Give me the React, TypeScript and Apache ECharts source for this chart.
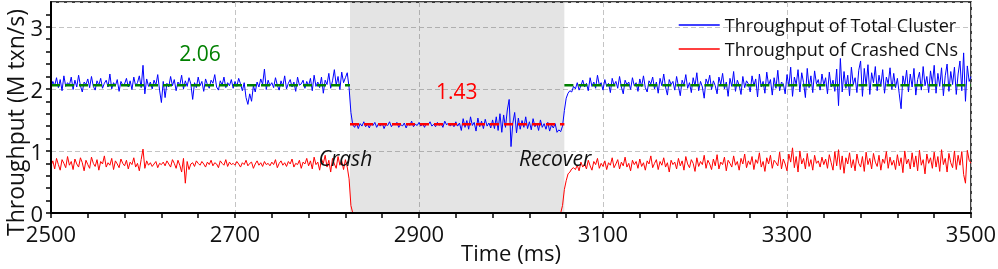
import React, { useEffect, useRef } from "react";
import * as echarts from "echarts";

// Sampling grid of the measurement (ms)
const timeStart = 2500;
const timeStep = 2;

// Throughput of the whole cluster (M txn/s), one value every 2 ms from 2500 to 3500
const totalThroughput = [
  2.01, 2.12, 2.05, 2.18, 2.02, 2.15, 1.97, 2.21, 2.04, 2.10, 2.06, 2.19, 1.99, 2.14, 2.03, 2.22, 2.05, 1.95, 2.11, 2.07,
  2.16, 2.02, 2.20, 2.04, 1.98, 2.13, 2.06, 2.17, 2.01, 2.09, 2.14, 2.03, 2.24, 2.00, 2.10, 2.05, 2.15, 1.96, 2.12, 2.06,
  2.08, 2.17, 2.03, 2.13, 1.99, 2.19, 2.05, 2.10, 2.21, 2.02, 2.38, 1.92, 2.16, 2.04, 2.11, 2.00, 2.14, 2.06, 2.23, 1.98,
  1.78, 2.12, 1.86, 2.09, 2.03, 2.20, 2.05, 2.15, 1.97, 2.11, 2.06, 2.22, 2.00, 2.13, 2.04, 2.18, 2.08, 1.83, 2.10, 2.02,
  2.19, 2.05, 2.12, 1.96, 2.16, 2.07, 2.01, 2.14, 2.09, 2.23, 2.03, 1.98, 2.13, 2.06, 2.19, 2.02, 2.10, 2.05, 2.15, 2.01,
  2.12, 2.04, 2.17, 2.08, 1.97, 2.10, 1.86, 1.75, 1.92, 1.80, 2.05, 1.95, 2.11, 2.03, 2.16, 2.07, 2.32, 1.99, 2.14, 2.05,
  2.10, 2.02, 2.18, 2.06, 1.98, 2.13, 2.04, 2.21, 2.00, 2.09, 2.15, 2.03, 2.11, 1.96, 2.19, 2.06, 2.08, 2.14, 2.01, 2.12,
  2.05, 2.17, 1.97, 2.22, 2.04, 2.11, 2.02, 2.19, 1.93, 2.14, 2.07, 2.25, 2.01, 2.13, 2.31, 2.06, 2.20, 1.99, 2.27, 2.10,
  2.18, 2.26, 2.02, 1.62, 1.42, 1.38, 1.45, 1.36, 1.44, 1.40, 1.47, 1.39, 1.43, 1.37, 1.45, 1.41, 1.46, 1.38, 1.44, 1.40,
  1.45, 1.36, 1.43, 1.41, 1.47, 1.39, 1.44, 1.42, 1.46, 1.38, 1.43, 1.40, 1.45, 1.37, 1.44, 1.41, 1.48, 1.39, 1.43, 1.41,
  1.46, 1.40, 1.44, 1.38, 1.45, 1.42, 1.47, 1.40, 1.43, 1.39, 1.46, 1.41, 1.44, 1.38, 1.48, 1.42, 1.45, 1.40, 1.44, 1.39,
  1.47, 1.40, 1.45, 1.33, 1.52, 1.38, 1.49, 1.35, 1.55, 1.41, 1.46, 1.32, 1.53, 1.39, 1.48, 1.36, 1.51, 1.40, 1.45, 1.37,
  1.50, 1.36, 1.55, 1.33, 1.60, 1.30, 1.58, 1.38, 1.66, 1.83, 1.07, 1.45, 1.62, 1.29, 1.53, 1.35, 1.49, 1.38, 1.55, 1.36,
  1.47, 1.34, 1.52, 1.39, 1.45, 1.33, 1.50, 1.38, 1.44, 1.35, 1.46, 1.32, 1.42, 1.37, 1.44, 1.30, 1.34, 1.31, 1.40, 1.65,
  1.85, 1.93, 1.97, 1.95, 2.04, 2.00, 2.10, 1.98, 2.05, 2.14, 2.03, 2.09, 1.97, 2.18, 2.04, 2.11, 2.01, 2.22, 2.06, 2.10,
  1.98, 2.15, 2.04, 2.09, 1.94, 2.17, 2.06, 2.12, 2.01, 2.20, 2.03, 1.92, 2.14, 2.07, 2.11, 1.99, 2.18, 2.05, 2.10, 1.96,
  2.16, 2.04, 2.21, 2.02, 1.95, 2.13, 2.08, 2.19, 2.00, 2.11, 1.93, 2.17, 2.05, 2.24, 2.03, 1.90, 2.15, 2.07, 2.12, 1.98,
  2.20, 2.04, 1.89, 2.14, 2.06, 2.23, 2.01, 2.10, 1.94, 2.18, 2.05, 2.26, 1.97, 2.12, 2.03, 1.85, 2.16, 2.08, 2.22, 1.99,
  2.13, 2.05, 1.92, 2.19, 2.07, 2.25, 2.00, 2.11, 1.88, 2.17, 2.04, 2.28, 1.96, 2.14, 2.06, 1.91, 2.20, 2.02, 2.13, 2.08,
  1.95, 2.21, 2.05, 2.16, 1.87, 2.24, 2.03, 2.12, 1.93, 2.27, 2.06, 2.15, 1.90, 2.18, 2.01, 2.30, 1.97, 2.11, 2.08, 1.92,
  2.23, 2.04, 2.35, 1.88, 2.19, 2.07, 2.31, 1.95, 2.26, 2.10, 1.86, 2.33, 2.02, 2.21, 1.94, 2.29, 2.08, 2.15, 1.98, 2.24,
  2.06, 2.18, 1.92, 2.27, 2.03, 2.14, 1.96, 2.32, 1.73, 2.49, 1.95, 2.28, 2.01, 2.22, 1.89, 2.35, 2.07, 2.18, 1.94, 2.30,
  2.45, 1.88, 2.33, 2.05, 2.39, 1.91, 2.26, 2.10, 2.36, 1.97, 2.22, 2.04, 2.31, 1.93, 2.19, 2.08, 2.34, 1.99, 2.25, 2.02,
  2.17, 1.92, 1.68, 2.21, 2.06, 2.30, 1.95, 2.24, 2.03, 2.33, 1.90, 2.15, 2.27, 1.98, 2.36, 2.05, 2.20, 1.94, 2.29, 2.08,
  2.38, 1.93, 2.25, 2.04, 2.34, 1.89, 2.21, 2.40, 1.96, 2.28, 2.07, 2.35, 1.91, 2.24, 2.45, 1.97, 2.58, 1.80, 2.37, 2.12,
  2.20,
];

// Throughput of the crashed compute nodes (M txn/s), same sampling grid
const crashedThroughput = [
  0.76, 0.84, 0.71, 0.88, 0.78, 0.69, 0.86, 0.80, 0.73, 0.91, 0.77, 0.83, 0.70, 0.87, 0.79, 0.74, 0.89, 0.81, 0.68, 0.85,
  0.78, 0.72, 0.90, 0.80, 0.75, 0.86, 0.69, 0.83, 0.79, 0.92, 0.74, 0.81, 0.77, 0.88, 0.70, 0.84, 0.79, 0.73, 0.87, 0.80,
  0.76, 0.85, 0.71, 0.82, 0.78, 0.89, 0.74, 0.80, 0.68, 0.86, 1.03, 0.72, 0.84, 0.77, 0.81, 0.75, 0.79, 0.83, 0.73, 0.80,
  0.78, 0.82, 0.76, 0.84, 0.79, 0.74, 0.86, 0.80, 0.72, 0.85, 0.77, 0.66, 0.88, 0.48, 0.83, 0.70, 0.79, 0.81, 0.75, 0.84,
  0.80, 0.77, 0.83, 0.79, 0.74, 0.82, 0.78, 0.85, 0.76, 0.81, 0.79, 0.73, 0.84, 0.80, 0.77, 0.86, 0.75, 0.82, 0.78, 0.80,
  0.77, 0.83, 0.79, 0.74, 0.81, 0.78, 0.85, 0.76, 0.80, 0.82, 0.72, 0.79, 0.84, 0.77, 0.81, 0.75, 0.83, 0.78, 0.80, 0.76,
  0.82, 0.78, 0.86, 0.73, 0.80, 0.84, 0.77, 0.81, 0.75, 0.83, 0.79, 0.87, 0.74, 0.80, 0.78, 0.85, 0.72, 0.82, 0.79, 0.88,
  0.76, 0.84, 0.71, 0.90, 0.78, 0.82, 0.69, 0.87, 0.80, 0.93, 0.74, 0.85, 0.66, 0.88, 0.79, 0.72, 0.91, 0.77, 0.84, 0.70,
  0.86, 0.74, 0.55, 0.12, 0, 0, 0, 0, 0, 0, 0, 0, 0, 0, 0, 0, 0, 0, 0, 0,
  0, 0, 0, 0, 0, 0, 0, 0, 0, 0, 0, 0, 0, 0, 0, 0, 0, 0, 0, 0,
  0, 0, 0, 0, 0, 0, 0, 0, 0, 0, 0, 0, 0, 0, 0, 0, 0, 0, 0, 0,
  0, 0, 0, 0, 0, 0, 0, 0, 0, 0, 0, 0, 0, 0, 0, 0, 0, 0, 0, 0,
  0, 0, 0, 0, 0, 0, 0, 0, 0, 0, 0, 0, 0, 0, 0, 0, 0, 0, 0, 0,
  0, 0, 0, 0, 0, 0, 0, 0, 0, 0, 0, 0, 0, 0, 0, 0, 0, 0, 0.12, 0.38,
  0.52, 0.63, 0.66, 0.71, 0.73, 0.70, 0.77, 0.68, 0.82, 0.74, 0.79, 0.71, 0.85, 0.76, 0.69, 0.83, 0.78, 0.88, 0.72, 0.80,
  0.75, 0.84, 0.70, 0.81, 0.77, 0.89, 0.73, 0.79, 0.86, 0.71, 0.82, 0.76, 0.90, 0.74, 0.80, 0.68, 0.85, 0.78, 0.83, 0.72,
  0.87, 0.75, 0.81, 0.69, 0.84, 0.79, 0.92, 0.73, 0.80, 0.86, 0.70, 0.83, 0.77, 0.89, 0.74, 0.81, 0.66, 0.85, 0.78, 0.82,
  0.71, 0.88, 0.76, 0.84, 0.69, 0.91, 0.79, 0.73, 0.86, 0.80, 0.67, 0.89, 0.75, 0.83, 0.78, 0.93, 0.72, 0.85, 0.79, 0.70,
  0.87, 0.76, 0.94, 0.71, 0.82, 0.78, 0.90, 0.68, 0.85, 0.80, 0.74, 0.92, 0.77, 0.83, 0.69, 0.88, 0.79, 0.95, 0.73, 0.84,
  0.78, 0.91, 0.70, 0.86, 0.80, 0.97, 0.74, 0.83, 0.67, 0.89, 0.79, 0.93, 0.72, 0.85, 0.81, 0.76, 0.98, 0.71, 0.87, 0.79,
  0.68, 0.95, 0.82, 1.05, 0.73, 0.91, 0.66, 1.00, 0.79, 0.88, 0.71, 0.96, 0.75, 0.86, 0.69, 0.93, 0.80, 0.84, 0.74, 0.90,
  0.78, 0.87, 0.72, 0.94, 0.81, 0.69, 0.99, 0.76, 1.02, 0.70, 0.92, 0.64, 0.89, 0.79, 0.97, 0.73, 0.86, 0.68, 0.95, 0.80,
  0.74, 0.91, 0.67, 0.98, 0.78, 0.88, 0.71, 0.96, 0.82, 0.75, 0.93, 0.69, 0.87, 0.80, 0.99, 0.72, 0.90, 0.77, 0.85, 0.70,
  0.94, 0.76, 0.89, 0.65, 1.00, 0.79, 0.87, 0.71, 0.97, 0.74, 0.92, 0.68, 1.01, 0.77, 0.86, 0.63, 0.95, 0.80, 0.89, 0.72,
  0.98, 0.74, 0.91, 0.67, 1.02, 0.78, 0.88, 0.66, 0.96, 0.81, 0.73, 1.00, 0.70, 0.93, 0.77, 0.99, 0.62, 0.48, 1.01, 0.85,
  0.80,
];

// Events and averages
const crashTime = 2825;
const recoverTime = 3058;
const axisStart = 2500;
const axisEnd = 3500;
const xLabelStep = 200;
const avgNormal = 2.06;
const avgCrash = 1.43;

// Annotations
const noteTexts = ["2.06", "1.43", "Crash", "Recover"];
const noteX = [2662, 2941, 2820, 3048];
const noteY = [2.58, 1.97, 0.88, 0.88];
const noteColors = ["#008000", "#ff0000", "#111111", "#111111"];
const noteItalic = [false, false, true, true];

const seriesNames = ["Throughput of Total Cluster", "Throughput of Crashed CNs"];
const seriesColors = ["#0000ff", "#ff0000"];
const yTitle = "Throughput (M txn/s)";
const xTitle = "Time (ms)";

const FONT = "'Open Sans', 'Noto Sans', sans-serif";
const isMultiple = (v: number, m: number) => Math.abs(v / m - Math.round(v / m)) < 1e-6;

export default function App() {
  const ref = useRef<HTMLDivElement>(null);
  useEffect(() => {
    const chart = echarts.init(ref.current!, null, { renderer: "svg" });
    const times = totalThroughput.map((_, i) => timeStart + i * timeStep);
    const totalData = times.map((t, i) => [t, totalThroughput[i]]);
    const crashedData = times.map((t, i) => [t, crashedThroughput[i]]);
    const dashStyle = [9, 5];

    chart.setOption({
      animation: false,
      textStyle: { fontFamily: FONT },
      grid: {
        left: 51,
        right: 27,
        top: 2,
        bottom: 56,
        show: true,
        borderColor: "#000",
        borderWidth: 1.5,
        backgroundColor: "transparent",
        containLabel: false,
        outerBoundsMode: "none",
      },
      legend: {
        data: seriesNames.map((name, i) => ({ name, icon: "rect", itemStyle: { color: seriesColors[i] } })),
        orient: "vertical",
        right: 40,
        top: 13,
        padding: 0,
        itemGap: 0,
        itemWidth: 41,
        itemHeight: 1.3,
        align: "left",
        textStyle: { fontSize: 18, color: "#111", fontFamily: FONT, lineHeight: 24, padding: [0, 0, 0, 0] },
      },
      xAxis: [
        {
          type: "value",
          min: axisStart,
          max: axisEnd,
          interval: 40,
          z: 5,
          axisLine: { show: true, lineStyle: { color: "#000", width: 2 } },
          axisTick: { show: true, inside: false, length: 5, lineStyle: { color: "#000", width: 1.5 } },
          axisLabel: {
            fontSize: 22,
            color: "#111",
            margin: 9,
            fontFamily: FONT,
            formatter: (v: number) => (isMultiple(v - axisStart, xLabelStep) ? String(v) : ""),
          },
          splitLine: { show: false },
          name: xTitle,
          nameLocation: "middle",
          nameGap: 28,
          nameMoveOverlap: false,
          nameTextStyle: { fontSize: 22, color: "#111", fontFamily: FONT },
        },
        {
          type: "value",
          min: axisStart,
          max: axisEnd,
          interval: xLabelStep,
          position: "top",
          axisLine: { show: false },
          axisTick: { show: false },
          axisLabel: { show: false },
          splitLine: { show: true, lineStyle: { color: "#c4c4c4", width: 1, type: [5, 3] } },
        },
      ],
      yAxis: [
        {
          type: "value",
          min: 0,
          max: 3.4,
          interval: 0.2,
          z: 5,
          axisLine: { show: true, lineStyle: { color: "#000", width: 2 } },
          axisTick: { show: true, inside: false, length: 5, lineStyle: { color: "#000", width: 1.5 } },
          axisLabel: {
            fontSize: 22,
            lineHeight: 14,
            color: "#111",
            margin: 8,
            fontFamily: FONT,
            showMaxLabel: false,
            formatter: (v: number) => (isMultiple(v, 1) && v < 3.3 ? String(Math.round(v)) : ""),
          },
          splitLine: { show: false },
        },
        {
          type: "value",
          min: 0,
          max: 3.4,
          interval: 1,
          position: "right",
          axisLine: { show: false },
          axisTick: { show: false },
          axisLabel: { show: false },
          splitLine: { show: true, lineStyle: { color: "#c4c4c4", width: 1, type: [5, 3] } },
        },
      ],
      series: [
        {
          name: seriesNames[1],
          type: "line",
          data: crashedData,
          showSymbol: false,
          symbol: "none",
          lineStyle: { color: seriesColors[1], width: 1 },
          itemStyle: { color: seriesColors[1] },
          z: 2,
        },
        {
          name: seriesNames[0],
          type: "line",
          data: totalData,
          showSymbol: false,
          symbol: "none",
          lineStyle: { color: seriesColors[0], width: 1 },
          itemStyle: { color: seriesColors[0] },
          z: 3,
          markArea: {
            silent: true,
            itemStyle: { color: "rgba(0,0,0,0.105)" },
            data: [[{ xAxis: crashTime }, { xAxis: recoverTime }]],
          },
        },
        {
          name: "avg-normal-1",
          type: "line",
          data: [[axisStart, avgNormal], [crashTime, avgNormal]],
          symbol: "none",
          lineStyle: { color: "#008000", width: 2.5, type: dashStyle },
          z: 4,
          silent: true,
        },
        {
          name: "avg-normal-2",
          type: "line",
          data: [[recoverTime, avgNormal], [axisEnd, avgNormal]],
          symbol: "none",
          lineStyle: { color: "#008000", width: 2.5, type: dashStyle },
          z: 4,
          silent: true,
        },
        {
          name: "avg-crash",
          type: "line",
          data: [[crashTime, avgCrash], [recoverTime, avgCrash]],
          symbol: "none",
          lineStyle: { color: "#ff0000", width: 2.5, type: dashStyle },
          z: 4,
          silent: true,
        },
      ],
    });

    const notes = noteTexts.map((text, i) => {
      const p = chart.convertToPixel({ seriesIndex: 0 }, [noteX[i], noteY[i]]) as number[];
      return {
        type: "text",
        x: p[0],
        y: p[1],
        z: 10,
        style: {
          text,
          fill: noteColors[i],
          fontSize: 21,
          fontFamily: FONT,
          fontStyle: noteItalic[i] ? "italic" : "normal",
          align: "center",
          verticalAlign: "middle",
        },
      };
    });
    const top = chart.convertToPixel({ seriesIndex: 0 }, [axisStart, 3.4]) as number[];
    const bottom = chart.convertToPixel({ seriesIndex: 0 }, [axisStart, 0]) as number[];
    chart.setOption({
      graphic: [
        ...notes,
        {
          type: "text",
          x: 14.5,
          y: (top[1] + bottom[1]) / 2 + 15,
          rotation: Math.PI / 2,
          z: 10,
          style: {
            text: yTitle,
            fill: "#111",
            fontSize: 23,
            fontFamily: FONT,
            align: "center",
            verticalAlign: "middle",
          },
        },
      ],
    });

    return () => chart.dispose();
  }, []);
  return <div ref={ref} style={{ position: "fixed", left: 0, top: 0, width: 998, height: 269 }} />;
}
